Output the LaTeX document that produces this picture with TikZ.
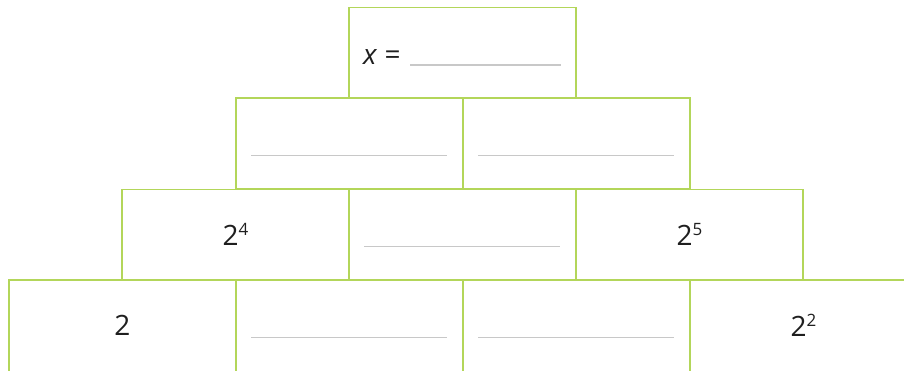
\documentclass[tikz,border=0pt]{standalone}
\usepackage{fontspec}
\setmainfont{Open Sans}
\definecolor{boxgreen}{HTML}{B3D65A}
\definecolor{blankgray}{HTML}{C8C8C8}
\newcommand{\supr}[1]{\raisebox{9.5pt}{\fontsize{17}{17}\selectfont #1}}
\begin{document}
\begin{tikzpicture}[x=1pt,y=1pt,
  box/.style={draw=boxgreen, line width=1.3pt, minimum width=227pt, minimum height=90.7pt, inner sep=0pt, outer sep=0pt},
  num/.style={inner sep=0pt, font=\fontsize{28}{32}\selectfont, text=black!88},
  blank/.style={draw=blankgray, line width=1.3pt}]
\useasboundingbox (0,0) rectangle (904,370);
\clip (0,0) rectangle (904,370);
% bottom row (extends below the page)
\node[box, minimum height=130pt, anchor=north] (d1) at (122.5,90) {};
\node[box, minimum height=130pt, anchor=north] (d2) at (349.5,90) {};
\node[box, minimum height=130pt, anchor=north] (d3) at (576.5,90) {};
\node[box, minimum height=130pt, anchor=north] (d4) at (803.5,90) {};
% third row
\node[box] (c1) at (235.5,135.5) {};
\node[box] (c2) at (462.5,135.5) {};
\node[box] (c3) at (689.5,135.5) {};
% second row
\node[box] (b1) at (349.5,226.5) {};
\node[box] (b2) at (576.5,226.5) {};
% top
\node[box] (a1) at (462.5,317) {};
% texts
\node[num] (t1) at ([yshift=-45.35pt]d1.north) {2};
\node[num] (t4) at ([yshift=-45.35pt]d4.north) {2\supr{2}};
\node[num] (s1) at (c1.center) {2\supr{4}};
\node[num] (s3) at (c3.center) {2\supr{5}};
\node[num, anchor=base west] (xe) at (363,305) {\textit{x} =};
% blanks
\draw[blank] ([xshift=61pt,yshift=-12pt]a1.west) -- ([xshift=-15pt,yshift=-12pt]a1.east);
\draw[blank] ([xshift=15pt,yshift=-12pt]b1.west) -- ([xshift=-16pt,yshift=-12pt]b1.east);
\draw[blank] ([xshift=15pt,yshift=-12pt]b2.west) -- ([xshift=-16pt,yshift=-12pt]b2.east);
\draw[blank] ([xshift=15pt,yshift=-12pt]c2.west) -- ([xshift=-16pt,yshift=-12pt]c2.east);
\draw[blank] ([xshift=15pt,yshift=-57.35pt]d2.north west) -- ([xshift=-16pt,yshift=-57.35pt]d2.north east);
\draw[blank] ([xshift=15pt,yshift=-57.35pt]d3.north west) -- ([xshift=-16pt,yshift=-57.35pt]d3.north east);
\end{tikzpicture}
\end{document}
